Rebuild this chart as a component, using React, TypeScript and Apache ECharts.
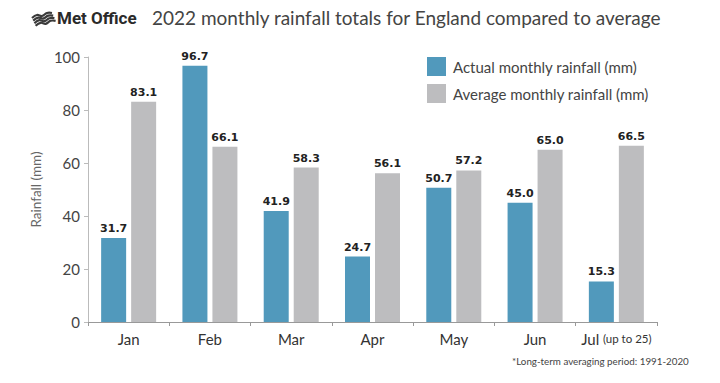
import React, { useEffect, useRef } from "react";
import * as echarts from "echarts";

const categories = ["Jan", "Feb", "Mar", "Apr", "May", "Jun", "Jul"];
const actualRainfall = [31.7, 96.7, 41.9, 24.7, 50.7, 45.0, 15.3];
const averageRainfall = [83.1, 66.1, 58.3, 56.1, 57.2, 65.0, 66.5];
const yTicks = { min: 0, max: 100, interval: 20 };

const FONT = "Lato, 'Open Sans', sans-serif";

export default function App() {
  const ref = useRef<HTMLDivElement>(null);
  useEffect(() => {
    if (!ref.current) return;
    const chart = echarts.init(ref.current, undefined, { renderer: "svg" });
    const labelStyle = {
      show: true,
      position: "top" as const,
      distance: 4,
      fontFamily: "'DejaVu Sans', sans-serif",
      fontWeight: "bold" as const,
      fontSize: 11,
      color: "#222",
      formatter: (p: any) => Number(p.value).toFixed(1),
    };
    const wave = (i: number) => ({
      type: "polyline",
      shape: {
        points: [
          [32 + i * 1.2, 18 + i * 2.6],
          [37 + i * 1.2, 15 + i * 2.6],
          [42 + i * 1.2, 16 + i * 2.6],
          [47 + i * 1.2, 13 + i * 2.6],
          [52 + i * 1.2, 13 + i * 2.6],
        ],
        smooth: 0.4,
      },
      style: { stroke: "#3a3a3a", lineWidth: 2.2, fill: null },
    });
    chart.setOption({
      animation: false,
      backgroundColor: "#fff",
      textStyle: { fontFamily: FONT },
      graphic: [
        wave(0),
        wave(1),
        wave(2),
        wave(3),
        {
          type: "text",
          left: 57,
          top: 9,
          style: {
            text: "Met Office",
            fontFamily: "Roboto, sans-serif",
            fontWeight: "bold",
            fontSize: 17,
            fill: "#2a2a2a",
            letterSpacing: -0.6,
          },
        },
        {
          type: "text",
          left: 152,
          top: 8,
          style: {
            text: "2022 monthly rainfall totals for England compared to average",
            fontFamily: FONT,
            fontSize: 19,
            fill: "#444",
          },
        },
        {
          type: "text",
          left: 512,
          top: 356,
          style: {
            text: "*Long-term averaging period: 1991-2020",
            fontFamily: FONT,
            fontSize: 9.8,
            fill: "#444",
          },
        },
      ],
      legend: {
        left: 427,
        top: 57,
        padding: 0,
        orient: "vertical",
        itemWidth: 19,
        itemHeight: 19,
        itemGap: 8,
        icon: "rect",
        textStyle: { fontFamily: FONT, fontSize: 15, color: "#444", padding: [0, 0, 0, 2] },
        data: ["Actual monthly rainfall (mm)", "Average monthly rainfall (mm)"],
      },
      grid: { left: 88, right: 63, top: 57, bottom: 61 },
      xAxis: {
        type: "category",
        data: categories,
        axisLine: { lineStyle: { color: "#999", width: 1 } },
        axisTick: { show: true, length: 4, alignWithLabel: false, lineStyle: { color: "#999" } },
        axisLabel: {
          interval: 0,
          margin: 9,
          fontFamily: FONT,
          fontSize: 15,
          color: "#333",
          formatter: (v: string) => (v === "Jul" ? "Jul {s|(up to 25)}" : v),
          rich: { s: { fontSize: 11.5, fontFamily: FONT, color: "#333" } },
        },
      },
      yAxis: {
        type: "value",
        min: yTicks.min,
        max: yTicks.max,
        interval: yTicks.interval,
        name: "Rainfall (mm)",
        nameLocation: "middle",
        nameGap: 41,
        nameTextStyle: { fontFamily: FONT, fontSize: 13.5, color: "#666" },
        axisLine: { show: true, lineStyle: { color: "#bbb" } },
        axisTick: { show: true, length: 4, lineStyle: { color: "#bbb" } },
        splitLine: { show: false },
        axisLabel: { fontFamily: FONT, fontSize: 15, color: "#444", margin: 8 },
      },
      series: [
        {
          name: "Actual monthly rainfall (mm)",
          type: "bar",
          data: actualRainfall,
          itemStyle: { color: "#5199bc" },
          barWidth: 25,
          barGap: "20%",
          label: labelStyle,
        },
        {
          name: "Average monthly rainfall (mm)",
          type: "bar",
          data: averageRainfall,
          itemStyle: { color: "#bdbdbf" },
          barWidth: 25,
          label: labelStyle,
        },
      ],
    });
    return () => chart.dispose();
  }, []);
  return <div ref={ref} style={{ width: 720, height: 383, position: "absolute", left: 0, top: 0 }} />;
}
